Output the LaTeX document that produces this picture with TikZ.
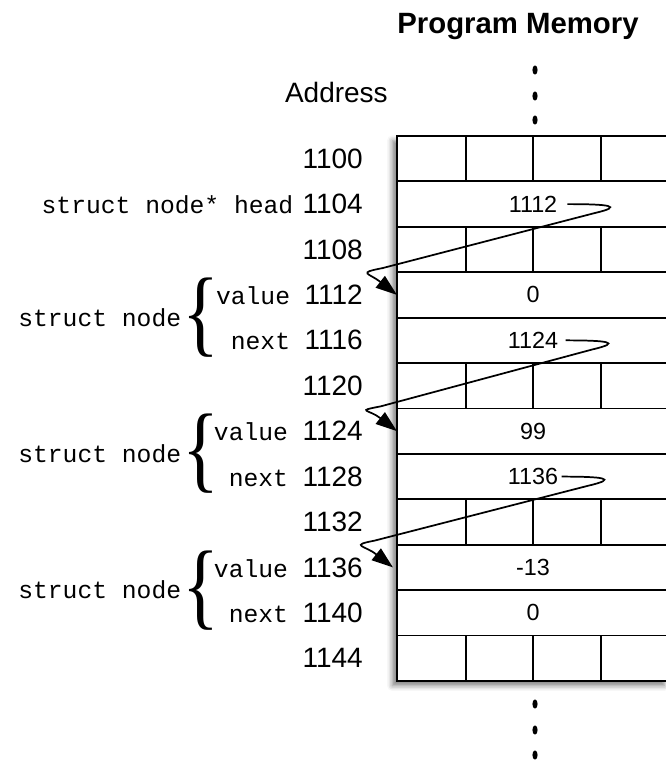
\documentclass[tikz,border=0pt]{standalone}
\usepackage{fontspec}
\setmainfont{Liberation Sans}
\newfontfamily\codefont{Liberation Mono}
\newfontfamily\bracefont{Liberation Serif}
\usetikzlibrary{positioning,arrows.meta,shadows.blur,backgrounds}

\newcommand{\bigbrace}{\makebox[15pt]{\scalebox{0.8}[1]{\bracefont\fontsize{72}{72}\selectfont\{}}}

\begin{document}
\begin{tikzpicture}[x=0.75pt,y=-0.75pt]
		\tikzstyle{row}=[rectangle, draw=black, line width=1.4pt, minimum width=204pt, minimum height=34.06pt, outer sep=0pt, inner sep=0pt]
		\tikzstyle{byte}=[line width=1.4pt]
		\tikzstyle{addr}=[font=\fontsize{21}{21}\selectfont, inner sep=0pt]
		\tikzstyle{cell}=[font=\fontsize{17.5}{17.5}\selectfont, inner sep=0pt]
		\tikzstyle{code}=[font=\codefont\fontsize{18.5}{18.5}\selectfont, inner sep=0pt]
		\tikzstyle{brace}=[inner sep=0pt]
		\tikzstyle{connect}=[-{Triangle[length=16pt,width=11pt]}, line width=1.3pt]
		
		\useasboundingbox (0,0) rectangle (665,761);
		
		\node[font=\bfseries\fontsize{22}{22}\selectfont, anchor=base] (title) at (518,33) {Program Memory};
		\node[addr, anchor=base east] (address) at (388,102) {Address};
		
		% memory words
		\node[row] (r1100) at (533,158.7) {};
		\node[row, below=0pt of r1100] (r1104) {};
		\node[row, below=0pt of r1104] (r1108) {};
		\node[row, below=0pt of r1108] (r1112) {};
		\node[row, below=0pt of r1112] (r1116) {};
		\node[row, below=0pt of r1116] (r1120) {};
		\node[row, below=0pt of r1120] (r1124) {};
		\node[row, below=0pt of r1124] (r1128) {};
		\node[row, below=0pt of r1128] (r1132) {};
		\node[row, below=0pt of r1132] (r1136) {};
		\node[row, below=0pt of r1136] (r1140) {};
		\node[row, below=0pt of r1140] (r1144) {};
		
		\begin{scope}[on background layer]
			\fill[white, blur shadow={shadow xshift=-3.5pt, shadow yshift=-3.5pt, shadow blur radius=4pt, shadow opacity=50}] (r1100.north west) rectangle (r1144.south east);
		\end{scope}
		
		% byte lines of the empty words
		\coordinate (col1) at (466,0);
		\coordinate (col2) at (533,0);
		\coordinate (col3) at (601,0);
		\foreach \w in {r1100,r1108,r1120,r1132,r1144}
			\foreach \c in {col1,col2,col3}
				\draw[byte] (\w.north -| \c) -- (\w.south -| \c);
		
		% contents
		\node[cell] (v1104) at (r1104) {1112};
		\node[cell] (v1112) at (r1112) {0};
		\node[cell] (v1116) at (r1116) {1124};
		\node[cell] (v1124) at (r1124) {99};
		\node[cell] (v1128) at (r1128) {1136};
		\node[cell] (v1136) at (r1136) {-13};
		\node[cell] (v1140) at (r1140) {0};
		
		% addresses
		\node[addr, left=25.5pt of r1100] (a1100) {1100};
		\node[addr, left=25.5pt of r1104] (a1104) {1104};
		\node[addr, left=25.5pt of r1108] (a1108) {1108};
		\node[addr, left=25.5pt of r1112] (a1112) {1112};
		\node[addr, left=25.5pt of r1116] (a1116) {1116};
		\node[addr, left=25.5pt of r1120] (a1120) {1120};
		\node[addr, left=25.5pt of r1124] (a1124) {1124};
		\node[addr, left=25.5pt of r1128] (a1128) {1128};
		\node[addr, left=25.5pt of r1132] (a1132) {1132};
		\node[addr, left=25.5pt of r1136] (a1136) {1136};
		\node[addr, left=25.5pt of r1140] (a1140) {1140};
		\node[addr, left=25.5pt of r1144] (a1144) {1144};
		
		% variable names
		\node[code, anchor=base east] (head) at ([xshift=-6.5pt]a1104.base west) {struct node* head};
		\node[code, anchor=base east] (val1) at ([xshift=-10.5pt]a1112.base west) {value};
		\node[code, anchor=base east] (nxt1) at ([xshift=-10.5pt]a1116.base west) {next};
		\node[code, anchor=base east] (val2) at ([xshift=-10.5pt]a1124.base west) {value};
		\node[code, anchor=base east] (nxt2) at ([xshift=-10.5pt]a1128.base west) {next};
		\node[code, anchor=base east] (val3) at ([xshift=-10.5pt]a1136.base west) {value};
		\node[code, anchor=base east] (nxt3) at ([xshift=-10.5pt]a1140.base west) {next};
		
		\coordinate (bracex) at (201,0);
		\node[brace] (br1) at (r1112.south -| bracex) {\bigbrace};
		\node[brace] (br2) at (r1124.south -| bracex) {\bigbrace};
		\node[brace] (br3) at (r1136.south -| bracex) {\bigbrace};
		\node[code, left=7pt of br1] (s1) {struct node};
		\node[code, left=7pt of br2] (s2) {struct node};
		\node[code, left=7pt of br3] (s3) {struct node};
		
		% pointers
		\draw[connect] ([xshift=7.5pt]v1104.east) .. controls +(42,0) and +(30,-7) .. ++(27,9) -- ++(-212,55) .. controls +(-26,5) and +(-28,-22) .. (r1112.west);
		\draw[connect] ([xshift=5.5pt]v1116.east) .. controls +(42,0) and +(30,-7) .. ++(27,9) -- ++(-212,57) .. controls +(-26,5) and +(-28,-22) .. (r1124.west);
		\draw[connect] ([xshift=2.5pt]v1128.east) .. controls +(42,0) and +(30,-7) .. ++(27,9) -- ++(-214,55) .. controls +(-26,5) and +(-28,-22) .. ([xshift=-3pt]r1136.west);
		
		% continuation dots
		\foreach \y in {70,96,120,704,730,755}
			\fill (535,\y) ellipse (2.6 and 4.6);
		
	\end{tikzpicture}
\end{document}
